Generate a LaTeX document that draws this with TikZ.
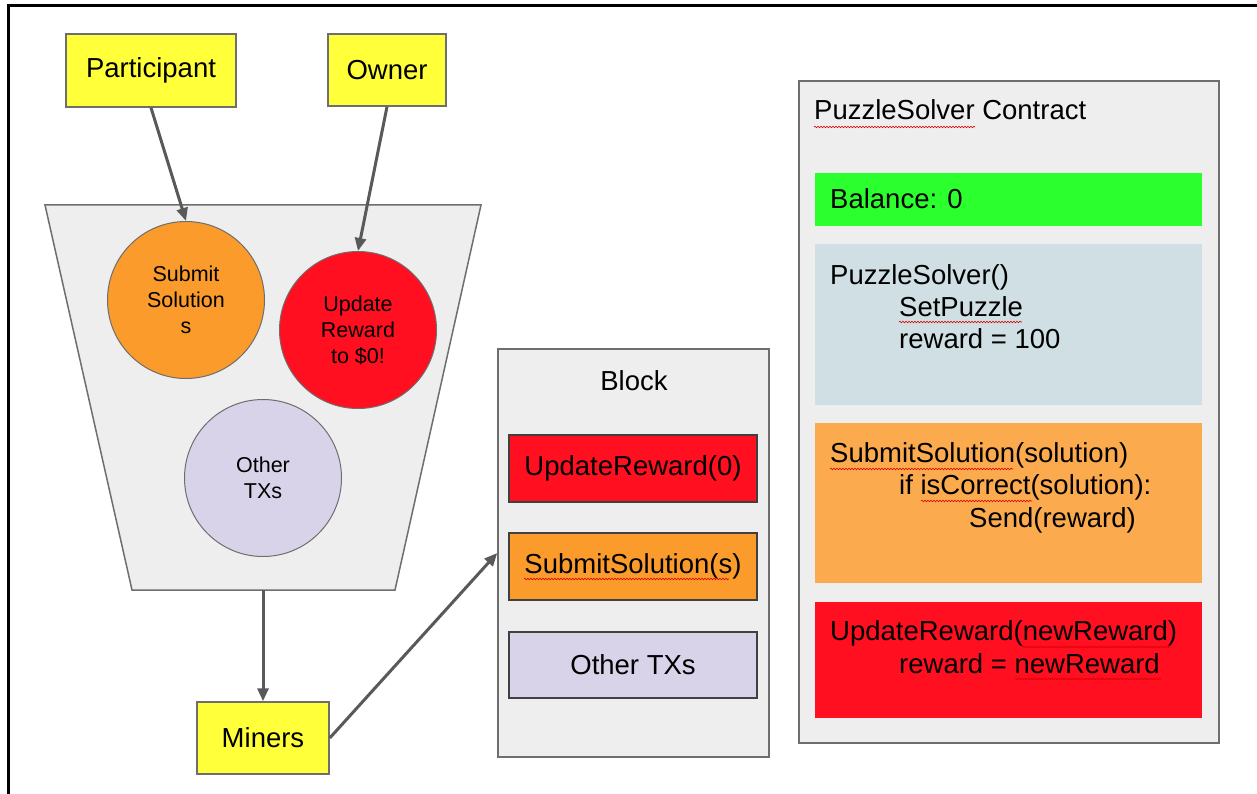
\documentclass[tikz,border=0pt]{standalone}
\usepackage{fontspec}
\setmainfont{Liberation Sans}
\usetikzlibrary{arrows.meta,decorations.pathmorphing}

\definecolor{yellowbox}{HTML}{FFFF3A}
\definecolor{orangetx}{HTML}{FA9B2C}
\definecolor{orangecode}{HTML}{FBAA4E}
\definecolor{redtx}{HTML}{FF0F1F}
\definecolor{lavender}{HTML}{D9D3E9}
\definecolor{panelgray}{HTML}{EEEEEE}
\definecolor{bluegray}{HTML}{D0DFE3}
\definecolor{greenbar}{HTML}{2BFF2E}
\definecolor{arrowgray}{HTML}{595959}
\definecolor{edgegray}{HTML}{6E6E6E}

\newcommand{\bigtxt}{\fontsize{27.5}{33}\selectfont}
\newcommand{\circtxt}{\fontsize{21.5}{26}\selectfont}

\begin{document}
\begin{tikzpicture}[x=1pt,y=-1pt,
  actor/.style={draw=edgegray, line width=1.5pt, fill=yellowbox, inner sep=0pt, font=\bigtxt},
  pool/.style={draw=edgegray, line width=1.5pt, fill=panelgray},
  txcircle/.style={circle, draw=edgegray, line width=1pt, minimum size=157pt, inner sep=0pt, align=center, font=\circtxt},
  panel/.style={draw=edgegray, line width=1.5pt, fill=panelgray, inner sep=0pt},
  txbar/.style={draw=black!75, line width=1.2pt, minimum width=248pt, inner sep=0pt, font=\bigtxt},
  codebar/.style={inner sep=0pt, minimum width=387pt},
  codeline/.style={anchor=base west, inner sep=0pt, font=\bigtxt},
  arr/.style={draw=arrowgray, line width=3pt, -{Triangle[length=13pt,width=11pt]}},
  spell/.style={draw=red!85!black, line width=0.6pt, decorate,
    decoration={snake, amplitude=0.8pt, segment length=3pt}},
  frameline/.style={draw=black, line width=3pt}]

\useasboundingbox (0,0) rectangle (1257,794);

% outer frame (top and left edges)
\draw[frameline] (1257,6) -- (8,6) -- (8,794);

% actors
\node[actor, minimum width=170pt, minimum height=73pt] (part) at (151,70.5) {Participant};
\node[actor, minimum width=118pt, minimum height=72pt] (own) at (387,70) {Owner};

% transaction pool
\draw[pool] (45,205) -- (481,205) -- (395,590) -- (132,590) -- cycle;
\coordinate (poolout) at (263,590);

\node[txcircle, fill=orangetx] (sub) at (186,300) {Submit\\Solution\\s};
\node[txcircle, fill=redtx] (upd) at (358,330) {Update\\Reward\\to \$0!};
\node[txcircle, fill=lavender] (oth) at (263,478) {Other\\TXs};

% miners
\node[actor, minimum width=132pt, minimum height=72pt] (miners) at (263,738) {Miners};

% block
\node[panel, minimum width=271pt, minimum height=408pt] (block) at (633.5,553) {};
\node[inner sep=0pt, font=\bigtxt, anchor=base] (blocktitle) at (634,390) {Block};
\node[txbar, fill=redtx, minimum height=67pt] (b1) at (633,468.5) {UpdateReward(0)};
\node[txbar, fill=orangetx, minimum height=67pt] (b2) at (633,566.5) {SubmitSolution(s)};
\node[txbar, fill=lavender, minimum height=66pt] (b3) at (633,665) {Other TXs};

% contract
\node[panel, minimum width=420pt, minimum height=662pt] (contract) at (1009,412) {};
\node[codeline] (ctitle) at (814,120) {PuzzleSolver Contract};
\node[codebar, fill=greenbar, minimum height=53pt] (balbar) at (1008.5,199.5) {};
\node[codeline] (bal) at (830,209) {Balance: 0};
\node[codebar, fill=bluegray, minimum height=161pt] (ctorbar) at (1008.5,324.5) {};
\node[codeline] (c1) at (830,284) {PuzzleSolver()};
\node[codeline] (c2) at (899,316) {SetPuzzle};
\node[codeline] (c3) at (899,348) {reward = 100};
\node[codebar, fill=orangecode, minimum height=160pt] (subbar) at (1008.5,503) {};
\node[codeline] (s1) at (830,462) {SubmitSolution(solution)};
\node[codeline] (s2) at (899,494.5) {if isCorrect(solution):};
\node[codeline] (s3) at (969,527) {Send(reward)};
\node[codebar, fill=redtx, minimum height=116pt] (updbar) at (1008.5,660) {};
\node[codeline] (u1) at (830,640) {UpdateReward(newReward)};
\node[codeline] (u2) at (899,673) {reward = newReward};

% spell-check underlines
\draw[spell] (814,127) -- (975,127);
\draw[spell] (899,322) -- (1022,322);
\draw[spell] (830,469) -- (1013,469);
\draw[spell] (921,501) -- (1032,501);
\draw[spell] (1022,647) -- (1170,647);
\draw[spell] (1015,679) -- (1161,679);
\draw[spell] (524,579) -- (729,579);

% connectors
\draw[arr] (part.south) -- (sub.north);
\draw[arr] (own.south) -- (upd.north);
\draw[arr] (poolout) -- (miners.north);
\draw[arr] (miners.east) -- (block.west);
\end{tikzpicture}
\end{document}
